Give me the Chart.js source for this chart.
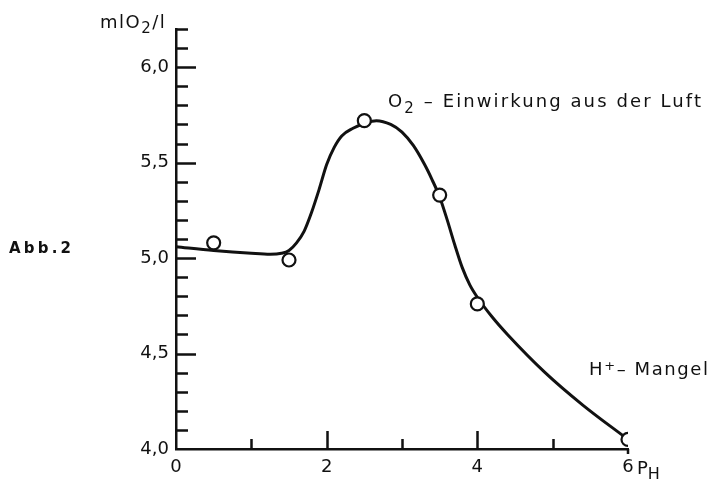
<!DOCTYPE html>
<html>
<head>
<meta charset="utf-8">
<script src="https://cdn.jsdelivr.net/npm/chart.js@4/dist/chart.umd.min.js"></script>
<style>
  body { margin: 0; background: #fff; }
  #chart { display: block; }
</style>
</head>
<body>
<canvas id="chart" width="713" height="483"></canvas>
<script>
// measured points (circles)
var phMess = [0.5, 1.5, 2.5, 3.5, 4.0, 6.0]
var o2Mess = [5.08, 4.99, 5.72, 5.33, 4.76, 4.05]

// hand drawn curve
var phKurve = [0, 0.5, 1.0, 1.25, 1.4, 1.5, 1.6, 1.7, 1.8, 1.9, 2.0, 2.1, 2.2, 2.35, 2.5, 2.66,
               2.85, 3.0, 3.15, 3.3, 3.4, 3.5, 3.6, 3.7, 3.8, 3.9, 4.0, 4.2, 4.4, 4.9, 5.4, 6.0]
var o2Kurve = [5.06, 5.04, 5.025, 5.02, 5.025, 5.04, 5.08, 5.14, 5.24, 5.36, 5.49, 5.58, 5.64, 5.68, 5.705, 5.72,
               5.70, 5.66, 5.59, 5.49, 5.41, 5.32, 5.20, 5.07, 4.95, 4.86, 4.795, 4.69, 4.60, 4.40, 4.23, 4.05]

var xLabels = ['0', '', '2', '', '4', '', '6']
var yLabels = ['4,0', '4,5', '5,0', '5,5', '6,0']

var FONT = "'DejaVu Sans', sans-serif"
var INK = '#111'

function paare(xs, ys) {
    var out = []
    for (var i = 0; i < xs.length; i++) out.push({ x: xs[i], y: ys[i] })
    return out
}

// text with sub/superscripts: parts = [[text, dy, size], ...]
function schreibe(ctx, parts, x, y, spacing) {
    ctx.save()
    ctx.textBaseline = 'alphabetic'
    ctx.textAlign = 'left'
    ctx.fillStyle = INK
    ctx.letterSpacing = (spacing || 0) + 'px'
    parts.forEach(function (p) {
        ctx.font = p[2] + 'px ' + FONT
        ctx.fillText(p[0], x, y + p[1])
        x += ctx.measureText(p[0]).width
    })
    ctx.restore()
}

var achsenPlugin = {
    id: 'achsen',
    afterDraw: function (chart) {
        var ctx = chart.ctx
        var xs = chart.scales.x, ys = chart.scales.y
        var left = chart.chartArea.left, bottom = chart.chartArea.bottom
        ctx.save()
        ctx.strokeStyle = INK
        ctx.lineWidth = 2.5
        ctx.beginPath()
        // inward ticks on y axis
        ys.ticks.forEach(function (t) {
            var v = t.value
            if (v < 4.01) return
            var py = Math.round(ys.getPixelForValue(v)) + 0.5
            var major = Math.abs(v * 2 - Math.round(v * 2)) < 1e-6
            var len = major ? 20 : 12
            ctx.moveTo(left, py)
            ctx.lineTo(left + len, py)
        })
        // inward ticks on x axis
        xs.ticks.forEach(function (t) {
            var v = t.value
            if (v < 0.5 || v > 5.5) return
            var px = Math.round(xs.getPixelForValue(v)) + 0.5
            var len = (v % 2 === 0) ? 18 : 10
            ctx.moveTo(px, bottom)
            ctx.lineTo(px, bottom - len)
        })
        // small stub below axis end
        var pe = xs.getPixelForValue(6)
        ctx.moveTo(pe, bottom)
        ctx.lineTo(pe, bottom + 5)
        ctx.stroke()
        ctx.restore()

        // axis titles and notes
        schreibe(ctx, [['mlO', 0, 18], ['2', 5, 15], ['/l', 0, 18]], 100, 28, 1.5)
        schreibe(ctx, [['P', 0, 18], ['H', 5, 16]], pe + 9, 474, 0)
        schreibe(ctx, [['O', 0, 18], ['2', 6, 15], [' \u2013 Einwirkung aus der Luft', 0, 18]], 388, 107, 2.1)
        schreibe(ctx, [['H', 0, 18], ['+', -5, 13], ['\u2013 Mangel', 0, 18]], 589, 375, 1.6)
        ctx.save()
        ctx.font = 'bold 15px ' + FONT
        ctx.fillStyle = INK
        ctx.letterSpacing = '3.2px'
        ctx.fillText('Abb.2', 9, 253)
        ctx.restore()
    }
}

var ctx = document.getElementById('chart')

var chart = new Chart(ctx, {
    type: 'scatter',
    data: {
        datasets: [{
            label: 'Messwerte',
            data: paare(phMess, o2Mess),
            showLine: false,
            pointRadius: 6.5,
            pointBorderWidth: 2.2,
            pointBorderColor: INK,
            pointBackgroundColor: '#fff',
            order: 0
        }, {
            label: 'Kurve',
            data: paare(phKurve, o2Kurve),
            showLine: true,
            cubicInterpolationMode: 'monotone',
            borderColor: INK,
            borderWidth: 3,
            pointRadius: 0,
            order: 1
        }]
    },
    options: {
        responsive: false,
        animation: false,
        layout: { padding: { top: 29, right: 85, left: 0, bottom: 0 } },
        plugins: {
            legend: { display: false },
            tooltip: { enabled: false }
        },
        scales: {
            x: {
                type: 'linear',
                min: 0,
                max: 6,
                grid: { display: false, drawTicks: false },
                border: { display: true, color: INK, width: 2.5 },
                ticks: {
                    stepSize: 1,
                    autoSkip: false,
                    maxRotation: 0,
                    padding: 8,
                    color: INK,
                    font: { family: FONT, size: 18 },
                    callback: function (v) { return xLabels[Math.round(v)] || '' }
                },
                afterFit: function (s) { s.height = 34 }
            },
            y: {
                type: 'linear',
                min: 4.0,
                max: 6.2,
                grid: { display: false, drawTicks: false },
                border: { display: true, color: INK, width: 2.5 },
                ticks: {
                    stepSize: 0.1,
                    autoSkip: false,
                    padding: 7,
                    color: INK,
                    font: { family: FONT, size: 18 },
                    callback: function (v) {
                        var k = (v - 4) * 2
                        if (Math.abs(k - Math.round(k)) > 1e-6) return ''
                        return yLabels[Math.round(k)] || ''
                    }
                },
                afterFit: function (s) { s.width = 176 }
            }
        }
    },
    plugins: [achsenPlugin]
});
</script>
</body>
</html>
